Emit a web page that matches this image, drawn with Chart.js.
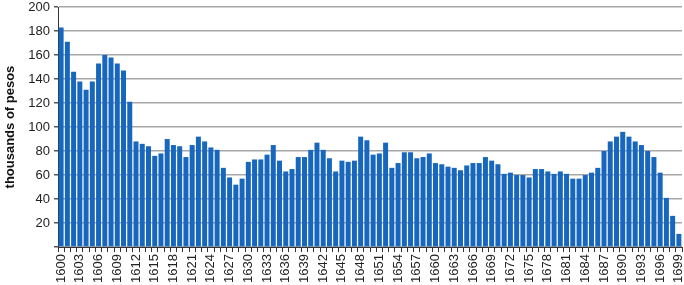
<!DOCTYPE html>
<html>
<head>
<meta charset="utf-8">
<script src="https://cdn.jsdelivr.net/npm/chart.js@4"></script>
<style>
  html, body { margin: 0; padding: 0; background: #fff; }
  #wrap { position: relative; width: 684px; height: 285px; }
</style>
</head>
<body>
<div id="wrap"><canvas id="pesosChart"></canvas></div>
<script>
const years = [
    '1600','1601','1602','1603','1604','1605','1606','1607','1608','1609',
    '1610','1611','1612','1613','1614','1615','1616','1617','1618','1619',
    '1620','1621','1622','1623','1624','1625','1626','1627','1628','1629',
    '1630','1631','1632','1633','1634','1635','1636','1637','1638','1639',
    '1640','1641','1642','1643','1644','1645','1646','1647','1648','1649',
    '1650','1651','1652','1653','1654','1655','1656','1657','1658','1659',
    '1660','1661','1662','1663','1664','1665','1666','1667','1668','1669',
    '1670','1671','1672','1673','1674','1675','1676','1677','1678','1679',
    '1680','1681','1682','1683','1684','1685','1686','1687','1688','1689',
    '1690','1691','1692','1693','1694','1695','1696','1697','1698','1699'
];

// thousands of pesos
const pesos = [
    183, 171, 146, 138, 131, 138, 153, 160, 158, 153,
    147, 121, 88, 86, 84, 76, 78, 90, 85, 84,
    75, 85, 92, 88, 83, 81, 66, 58, 52, 57,
    71, 73, 73, 77, 85, 72, 63, 65, 75, 75,
    81, 87, 81, 74, 63, 72, 71, 72, 92, 89,
    77, 78, 87, 66, 70, 79, 79, 74, 75, 78,
    70, 69, 67, 66, 64, 68, 70, 70, 75, 72,
    69, 61, 62, 60, 60, 58, 65, 65, 63, 61,
    63, 61, 57, 57, 60, 62, 66, 80, 88, 92,
    96, 92, 88, 85, 80, 75, 62, 41, 26, 11
];

const yMin = 0;
const yMax = 200;
const yStep = 20;
const labelEvery = 3;

const ctx = document.getElementById('pesosChart').getContext('2d');
const pesosChart = new Chart(ctx, {
    type: 'bar',
    data: {
        labels: years,
        datasets: [{
            data: pesos,
            backgroundColor: '#1767bf',
            borderWidth: 0,
            barPercentage: 0.8,
            categoryPercentage: 1.0
        }]
    },
    options: {
        responsive: true,
        maintainAspectRatio: false,
        animation: false,
        layout: { padding: { top: 0, right: 2, bottom: 0, left: 0 } },
        plugins: {
            legend: { display: false },
            tooltip: { enabled: false }
        },
        scales: {
            x: {
                border: { display: true, color: '#333', width: 1 },
                grid: {
                    drawOnChartArea: false,
                    drawTicks: true,
                    tickLength: 5,
                    color: '#333'
                },
                ticks: {
                    autoSkip: false,
                    minRotation: 90,
                    maxRotation: 90,
                    padding: 2,
                    color: '#222',
                    font: { family: 'Liberation Sans, Arial, sans-serif', size: 13 },
                    callback: function (value, index) {
                        return index % labelEvery === 0 ? years[index] : '';
                    }
                },
                afterFit: function (scale) {
                    // let the bars run to the right edge like the original
                    scale.paddingRight = 0;
                    scale.paddingLeft = 0;
                }
            },
            y: {
                min: yMin,
                max: yMax,
                border: { display: true, color: '#333', width: 1 },
                grid: {
                    color: '#a8a8a8',
                    lineWidth: 1.5,
                    drawTicks: true,
                    tickLength: 4,
                    tickColor: '#555'
                },
                ticks: {
                    stepSize: yStep,
                    padding: 4,
                    color: '#222',
                    font: { family: 'Liberation Sans, Arial, sans-serif', size: 13 },
                    callback: function (value) {
                        return value === 0 ? '' : value;
                    }
                },
                title: {
                    display: true,
                    text: 'thousands of pesos',
                    color: '#111',
                    padding: { top: 3, bottom: 6 },
                    font: { family: 'Liberation Sans, Arial, sans-serif', size: 13, weight: 'bold' }
                },
                afterFit: function (scale) {
                    scale.width = 58;
                    scale.paddingTop = 7;
                    scale.paddingBottom = 0;
                }
            }
        }
    }
});
</script>
</body>
</html>
